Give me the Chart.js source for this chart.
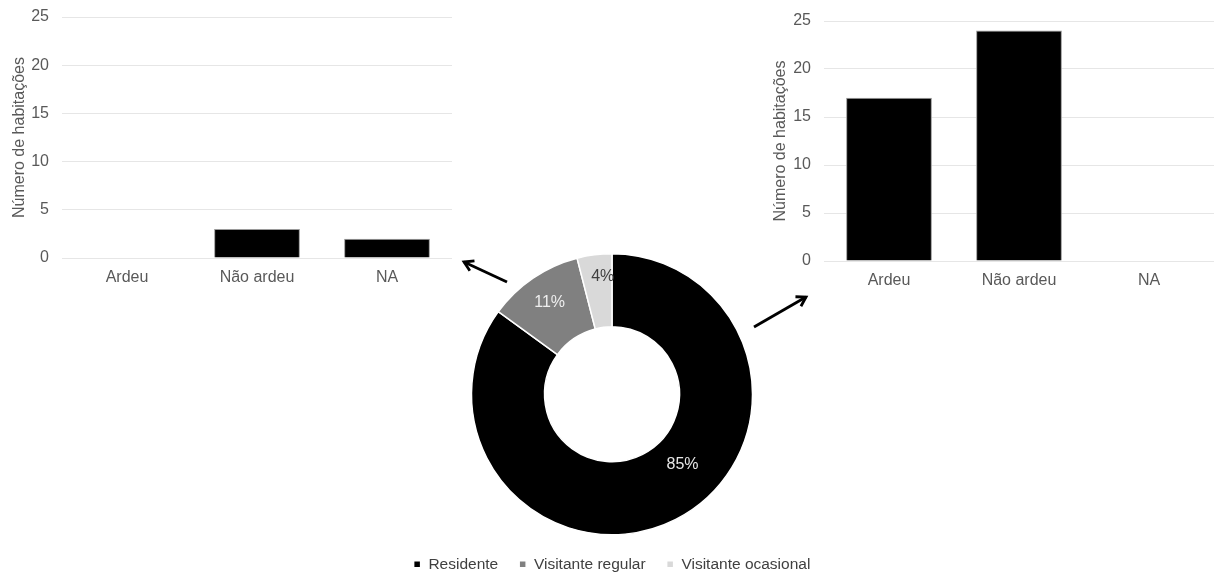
<!DOCTYPE html>
<html>
<head>
<meta charset="utf-8">
<script src="https://cdn.jsdelivr.net/npm/chart.js@4.4.0/dist/chart.umd.min.js"></script>
<style>
html,body{margin:0;padding:0;background:#fff;overflow:hidden;width:1217px;height:574px;}
.w{position:absolute;}
svg{position:absolute;left:0;top:0;}
</style>
</head>
<body>
<div class="w" style="left:0;top:0;width:462px;height:290px;"><canvas id="left"></canvas></div>
<div class="w" style="left:760px;top:0;width:457px;height:300px;"><canvas id="right"></canvas></div>
<div class="w" style="left:362px;top:253px;width:500px;height:329px;"><canvas id="donut"></canvas></div>
<svg width="1217" height="574">
  <defs>
    <marker id="ah" markerWidth="16" markerHeight="16" refX="11" refY="7" orient="auto" markerUnits="userSpaceOnUse">
      <path d="M2,1.5 L11,7 L2,12.5" fill="none" stroke="#000" stroke-width="2.8" stroke-linejoin="miter"/>
    </marker>
  </defs>
  <line x1="507" y1="282" x2="464" y2="262" stroke="#000" stroke-width="2.8" marker-end="url(#ah)"/>
  <line x1="754" y1="327" x2="806" y2="297" stroke="#000" stroke-width="2.8" marker-end="url(#ah)"/>
</svg>
<script>
// ---- data ----
const categories = ['Ardeu', 'Não ardeu', 'NA'];
const leftValues = [0, 3, 2];
const rightValues = [17, 24, 0];
const yTicks = [0, 5, 10, 15, 20, 25];
const yTitle = 'Número de habitações';
const donutLabels = ['Residente', 'Visitante regular', 'Visitante ocasional'];
const donutValues = [85, 11, 4];
const donutPctLabels = ['85%', '11%', '4%'];

// ---- style ----
const FONT = 'Liberation Sans, Arial, sans-serif';
const TXT = '#595959';
const GRID = '#e6e6e6';
Chart.defaults.font.family = FONT;
Chart.defaults.font.size = 16;
Chart.defaults.color = TXT;
Chart.defaults.animation = false;

function barConfig(values, yWidth, titlePad, padRight, padTop, xHeight) {
  return {
    type: 'bar',
    data: {
      labels: categories,
      datasets: [{
        data: values,
        backgroundColor: '#000',
        borderColor: '#9a9a9a',
        borderWidth: 1,
        barPercentage: 0.66,
        categoryPercentage: 1.0
      }]
    },
    options: {
      responsive: true,
      maintainAspectRatio: false,
      layout: { padding: { top: padTop, right: padRight, left: 0, bottom: 0 } },
      plugins: { legend: { display: false }, tooltip: { enabled: false } },
      scales: {
        x: {
          grid: { display: false, drawTicks: false },
          border: { display: false },
          ticks: { padding: 10, color: TXT, font: { size: 16 } },
          afterFit: s => { s.height = xHeight; }
        },
        y: {
          min: 0, max: 25,
          afterBuildTicks: s => { s.ticks = yTicks.map(v => ({ value: v })); },
          grid: { color: GRID, lineWidth: 1, drawTicks: true, tickLength: 10, tickColor: 'rgba(0,0,0,0)' },
          border: { display: false },
          ticks: { padding: 3, color: TXT, font: { size: 16 } },
          title: { display: true, text: yTitle, color: TXT, font: { size: 16 }, padding: { top: titlePad, bottom: 0 } },
          afterFit: s => { s.width = yWidth; }
        }
      }
    }
  };
}

new Chart(document.getElementById('left'), barConfig(leftValues, 62, 10, 10, 17, 32));
new Chart(document.getElementById('right'), barConfig(rightValues, 64, 11, 3, 21, 39));

// percentage labels plugin
const labelStyle = {
  colors: ['#e6e6e6', '#eeeeee', '#404040'],
  angleDeg: [45, null, -94.5],   // Excel-style label placement overrides
  radiusFrac: [0.71, 0.79, 0.84]
};
const pctPlugin = {
  id: 'pct',
  afterDatasetsDraw(chart) {
    const ctx = chart.ctx;
    const meta = chart.getDatasetMeta(0);
    ctx.save();
    ctx.font = '16px ' + FONT;
    ctx.textAlign = 'center';
    ctx.textBaseline = 'middle';
    meta.data.forEach((arc, i) => {
      const p = arc.getProps(['x', 'y', 'startAngle', 'endAngle', 'outerRadius'], true);
      let a = (p.startAngle + p.endAngle) / 2;
      if (labelStyle.angleDeg[i] !== null) a = labelStyle.angleDeg[i] * Math.PI / 180;
      const r = p.outerRadius * labelStyle.radiusFrac[i];
      ctx.fillStyle = labelStyle.colors[i];
      ctx.fillText(donutPctLabels[i], p.x + r * Math.cos(a), p.y + r * Math.sin(a));
    });
    ctx.restore();
  }
};

new Chart(document.getElementById('donut'), {
  type: 'doughnut',
  data: {
    labels: donutLabels,
    datasets: [{
      data: donutValues,
      backgroundColor: ['#000000', '#808080', '#d9d9d9'],
      borderColor: '#ffffff',
      borderWidth: 1.5
    }]
  },
  options: {
    responsive: true,
    maintainAspectRatio: false,
    cutout: '48%',
    layout: { padding: 0 },
    plugins: {
      tooltip: { enabled: false },
      legend: {
        position: 'bottom',
        labels: {
          boxWidth: 7, boxHeight: 7, padding: 21,
          color: '#404040', font: { size: 15.5 }
        }
      }
    }
  },
  plugins: [pctPlugin]
});
</script>
</body>
</html>
